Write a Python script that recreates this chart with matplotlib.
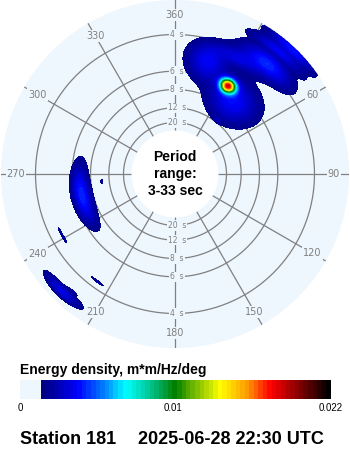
import numpy as np
import matplotlib.pyplot as plt
from matplotlib import transforms
from matplotlib.colors import LinearSegmentedColormap, ListedColormap, BoundaryNorm
from matplotlib.patches import Circle, Rectangle

# spectral peaks read as: direction (deg), period (s), spread in direction (deg),
# spread in frequency (Hz), energy density (m*m/Hz/deg)
peak_dir = [31, 16, 38, 40, 43, 40, 29, 38, 257, 264, 241.5, 224, 221, 216]
peak_period = [6.0, 5.0, 6.9, 3.85, 3.1, 3.35, 4.3, 11.0, 6.67, 10.0, 4.45, 3.3, 3.48, 4.27]
peak_dir_width = [3.0, 6.0, 10.0, 7.5, 6.0, 7.0, 7.0, 2.0, 11.0, 1.2, 3.0, 5.0, 1.5, 2.5]
peak_freq_width = [0.010, 0.026, 0.030, 0.016, 0.010, 0.007, 0.012, 0.003, 0.012, 0.002, 0.0015, 0.007, 0.0015, 0.0015]
peak_energy = [0.0165, 0.0026, 0.0028, 0.0034, 0.003, 0.0022, 0.0018, 0.0009, 0.0034, 0.0007, 0.0008, 0.0022, 0.0007, 0.0008]

ring_periods = [4, 6, 8, 12, 20]
dir_labels = [360, 30, 60, 90, 120, 150, 180, 210, 240, 270, 300, 330]

cbar_max = 0.022
cbar_ticks = [0.01, 0.022]

station = 181
stamp = '2025-06-28 22:30 UTC'

disk = '#eef6fe'
grid = '#808080'

# radius (pixels) grows linearly with frequency
r0, r_per_hz = 29.5, 440.0
r_edge = 174.0
r_hole = r0 + r_per_hz / 33.0


def radius(freq):
    return r0 + r_per_hz * np.asarray(freq)


cmap_pos = [0.0, 0.12, 0.21, 0.29, 0.37, 0.46, 0.54, 0.62, 0.71, 0.80, 0.90, 1.0]
cmap_col = ['#000080', '#0000ff', '#0080ff', '#00ffff', '#00c896', '#008000',
            '#80c000', '#ffff00', '#ffa000', '#ff0000', '#800000', '#000000']
smooth = LinearSegmentedColormap.from_list('wave', list(zip(cmap_pos, cmap_col)))
nband = 64
cmap = ListedColormap(smooth(np.linspace(0, 1, nband)))
levels = np.linspace(0, cbar_max, nband + 1)
norm = BoundaryNorm(levels, cmap.N)

# energy field on a direction/frequency grid
dirs = np.arange(0, 360.5, 0.5)
freqs = np.linspace(1 / 33.0, (r_edge - r0) / r_per_hz, 320)
D, F = np.meshgrid(dirs, freqs)
E = np.zeros_like(D)
for d0, p0, sd, sf, a in zip(peak_dir, peak_period, peak_dir_width, peak_freq_width, peak_energy):
    dd = (D - d0 + 180) % 360 - 180
    E += a * np.exp(-0.5 * (dd / sd) ** 2 - 0.5 * ((F - 1.0 / p0) / sf) ** 2)

fig = plt.figure(figsize=(3.5, 4.5), dpi=100)
W, H = 350.0, 450.0
cx, cy = 175.0, 174.0
ax = fig.add_axes([(cx - r_edge) / W, (H - cy - r_edge) / H, 2 * r_edge / W, 2 * r_edge / H],
                  projection='polar')
ax.set_theta_zero_location('N')
ax.set_theta_direction(-1)
ax.set_facecolor(disk)
ax.spines['polar'].set_visible(False)
ax.grid(False)
ax.set_xticks([])
ax.set_yticks([])
ax.set_ylim(0, r_edge)

th = np.linspace(0, 2 * np.pi, 721)
for p in ring_periods:
    ax.plot(th, np.full_like(th, radius(1.0 / p)), color=grid, lw=0.9, zorder=1)
for d in range(0, 360, 30):
    ax.plot([np.radians(d)] * 2, [r_hole, r_edge], color=grid, lw=0.9, zorder=1)

for d in dir_labels:
    ax.text(np.radians(d), 159, str(d), ha='center', va='center', fontsize=7,
            color=grid, zorder=2,
            bbox=dict(boxstyle='square,pad=0.12', fc=disk, ec='none'))

shift = transforms.offset_copy(ax.transData, fig=fig, x=2, y=0, units='dots')
for p in ring_periods:
    for t in (0, np.pi):
        ax.text(t, radius(1.0 / p), f'{p}  s', ha='center', va='center', fontsize=5.5,
                color=grid, zorder=2, transform=shift,
                bbox=dict(boxstyle='square,pad=0.1', fc=disk, ec='none'))

ax.contourf(np.radians(D), radius(F), E, levels=levels[1:], cmap=cmap, norm=norm,
            zorder=3, antialiased=False)

ax.add_patch(Circle((0, 0), r_hole, transform=ax.transData._b, color='white', zorder=4))

fig.text(cx / W, 1 - cy / H, 'Period\nrange:\n3-33 sec', ha='center', va='center',
         fontsize=10, fontweight='bold', family='Liberation Sans', linespacing=1.3)

# colour key
x0, x1, x2 = 20.0, 41.0, 331.0
yb, yt = 399.0, 380.0
fig.patches.append(Rectangle((x0 / W, 1 - yb / H), (x1 - x0) / W, (yb - yt) / H,
                             transform=fig.transFigure, fc=disk, ec='none'))
cax = fig.add_axes([x1 / W, 1 - yb / H, (x2 - x1) / W, (yb - yt) / H])
cax.imshow(np.linspace(0, cbar_max, 600)[None, :], aspect='auto', cmap=cmap, norm=norm,
           extent=[0, cbar_max, 0, 1], interpolation='nearest')
cax.set_axis_off()

fig.text(x0 / W, 1 - 374 / H, 'Energy density, m*m/Hz/deg', ha='left', va='baseline',
         fontsize=10, fontweight='bold', family='Liberation Sans')
fig.text(x0 / W, 1 - 411 / H, '0', ha='center', va='baseline', fontsize=7,
         family='Liberation Sans')
for v in cbar_ticks:
    xv = x1 + (x2 - x1) * v / cbar_max
    fig.text(xv / W, 1 - 411 / H, f'{v:g}', ha='center', va='baseline', fontsize=7,
             family='Liberation Sans')

fig.text(x0 / W, 1 - 444 / H, f'Station {station}', ha='left', va='baseline',
         fontsize=13, fontweight='bold', family='Liberation Sans')
fig.text(138 / W, 1 - 444 / H, stamp, ha='left', va='baseline',
         fontsize=13, fontweight='bold', family='Liberation Sans')

fig.savefig('out.png', dpi=100)
